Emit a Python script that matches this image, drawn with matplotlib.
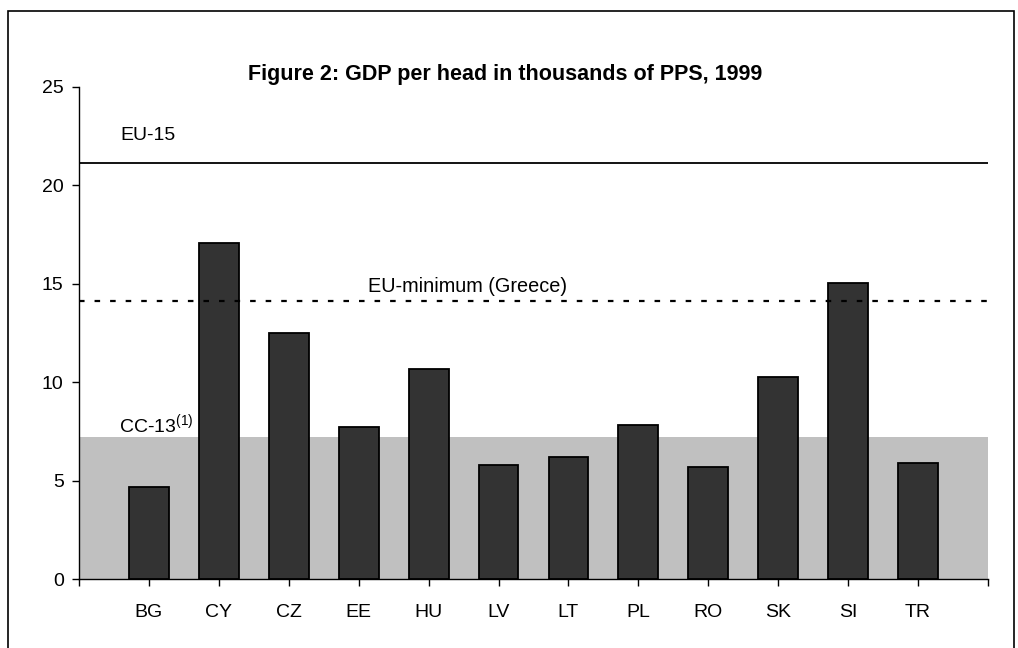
import matplotlib
matplotlib.use('Agg')
from matplotlib import pyplot as plt
from matplotlib.patches import Rectangle

# Data (thousands of PPS, 1999)
countries = ['BG', 'CY', 'CZ', 'EE', 'HU', 'LV', 'LT', 'PL', 'RO', 'SK', 'SI', 'TR']
gdp_per_head = [4.67, 17.06, 12.49, 7.72, 10.66, 5.80, 6.19, 7.83, 5.70, 10.28, 15.02, 5.89]
eu15 = 21.12
eu_min_greece = 14.13
cc13 = 7.22

plt.rcParams['font.family'] = ['Liberation Sans', 'DejaVu Sans']

fig = plt.figure(figsize=(10.18, 6.48), dpi=100)
W, H = 1018, 648
ax = fig.add_axes([79 / W, (H - 579.3) / H, (988 - 79) / W, (579.3 - 86.7) / H])

positions = list(range(1, len(countries) + 1))

# CC-13 average shaded band
ax.axhspan(0, cc13, color='#c0c0c0', lw=0, zorder=0)

ax.bar(positions, gdp_per_head, width=0.57, color='#333333',
       edgecolor='black', linewidth=1.3, zorder=3)

ax.axhline(eu15, color='black', lw=1.3, zorder=2)
ax.axhline(eu_min_greece, color='black', lw=1.6, linestyle=(0, (2.5, 4.5)), zorder=4)

ax.text(0.586, 22.3, 'EU-15', fontsize=14, va='baseline')
ax.text(4.13, 14.6, 'EU-minimum (Greece)', fontsize=14.3, va='baseline')
ax.text(0.576, 7.41, 'CC-13$^{\\mathregular{(1)}}$', fontsize=14, va='baseline')

ax.set_xlim(0, 13)
ax.set_ylim(0, 25)
ax.set_yticks([0, 5, 10, 15, 20, 25])
ax.set_xticks([0] + positions + [13])
ax.set_xticklabels([''] + countries + [''])
ax.tick_params(axis='both', labelsize=14, direction='out', length=5, width=1)
ax.tick_params(axis='x', pad=13)
ax.tick_params(axis='y', pad=6)
for side in ['top', 'right']:
    ax.spines[side].set_visible(False)
for side in ['left', 'bottom']:
    ax.spines[side].set_linewidth(1)

fig.text(505 / W, (H - 80) / H, 'Figure 2: GDP per head in thousands of PPS, 1999',
         ha='center', va='baseline', fontsize=15.5, fontweight='bold')

# outer frame
fig.patches.append(Rectangle((8 / W, -0.05), (1014 - 8) / W, 1.05 - 11 / H,
                             transform=fig.transFigure, fill=False,
                             edgecolor='black', lw=1.2))

fig.savefig('out.png', dpi=100)
